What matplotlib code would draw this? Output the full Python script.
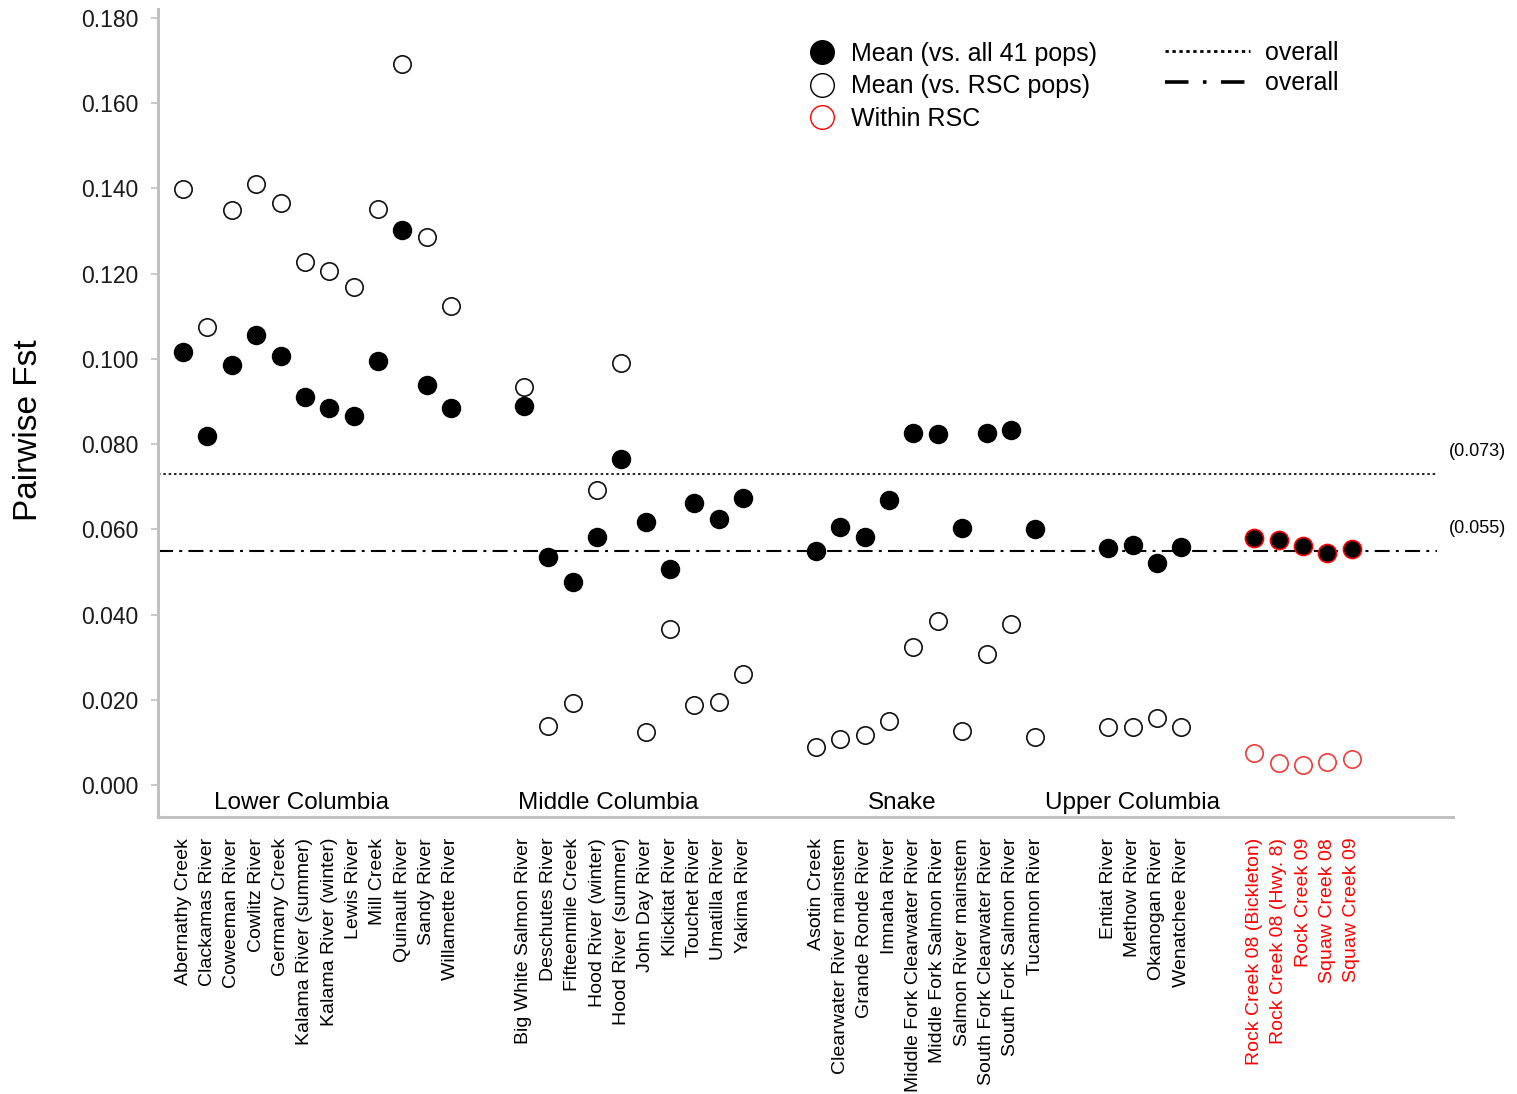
import matplotlib
matplotlib.use("Agg")
import matplotlib.pyplot as plt
from matplotlib.lines import Line2D
import numpy as np

plt.rcParams["font.family"] = ["Liberation Sans", "DejaVu Sans"]

# ---- populations, grouped by region ----
group_names = ["Lower Columbia", "Middle Columbia", "Snake", "Upper Columbia", "RSC"]

lower_columbia = ["Abernathy Creek", "Clackamas River", "Coweeman River", "Cowlitz River",
                  "Germany Creek", "Kalama River (summer)", "Kalama River (winter)",
                  "Lewis River", "Mill Creek", "Quinault River", "Sandy River",
                  "Willamette River"]
middle_columbia = ["Big White Salmon River", "Deschutes River", "Fifteenmile Creek",
                   "Hood River (winter)", "Hood River (summer)", "John Day River",
                   "Klickitat River", "Touchet River", "Umatilla River", "Yakima River"]
snake = ["Asotin Creek", "Clearwater River mainstem", "Grande Ronde River", "Imnaha River",
         "Middle Fork Clearwater River", "Middle Fork Salmon River",
         "Salmon River mainstem", "South Fork Clearwater River",
         "South Fork Salmon River", "Tucannon River"]
upper_columbia = ["Entiat River", "Methow River", "Okanogan River", "Wenatchee River"]
rsc = ["Rock Creek 08 (Bickleton)", "Rock Creek 08 (Hwy. 8)", "Rock Creek 09",
       "Squaw Creek 08", "Squaw Creek 09"]

# ---- mean pairwise Fst vs. all 41 populations ----
mean_all_lc = [0.1016, 0.0819, 0.0986, 0.1056, 0.1007, 0.0911, 0.0885, 0.0866,
               0.0995, 0.1302, 0.0939, 0.0885]
mean_all_mc = [0.0889, 0.0535, 0.0476, 0.0582, 0.0765, 0.0617, 0.0507, 0.0662,
               0.0624, 0.0674]
mean_all_sn = [0.0549, 0.0605, 0.0582, 0.0669, 0.0826, 0.0824, 0.0603, 0.0826,
               0.0833, 0.0601]
mean_all_uc = [0.0556, 0.0563, 0.0521, 0.0559]
mean_all_rsc = [0.0580, 0.0575, 0.0561, 0.0544, 0.0554]

# ---- mean pairwise Fst vs. RSC populations (within RSC for RSC pops) ----
mean_rsc_lc = [0.1399, 0.1075, 0.1349, 0.1410, 0.1366, 0.1227, 0.1206, 0.1169,
               0.1352, 0.1692, 0.1286, 0.1124]
mean_rsc_mc = [0.0934, 0.0138, 0.0192, 0.0692, 0.0990, 0.0124, 0.0366, 0.0188,
               0.0195, 0.0260]
mean_rsc_sn = [0.0089, 0.0108, 0.0117, 0.0150, 0.0324, 0.0385, 0.0127, 0.0307,
               0.0378, 0.0113]
mean_rsc_uc = [0.0136, 0.0136, 0.0157, 0.0136]
within_rsc = [0.0075, 0.0052, 0.0047, 0.0054, 0.0061]

overall_all = 0.073
overall_rsc = 0.055

yticks = [0.000, 0.020, 0.040, 0.060, 0.080, 0.100, 0.120, 0.140, 0.160, 0.180]

# ---- x positions: one slot per population, two empty slots between regions ----
groups = [lower_columbia, middle_columbia, snake, upper_columbia, rsc]
positions = []
start = 0
for g in groups:
    positions.append(np.arange(start, start + len(g)))
    start += len(g) + 2
all_names = sum(groups, [])
all_pos = np.concatenate(positions)

fig = plt.figure(figsize=(15.17, 10.94), dpi=100)
ax = fig.add_axes([0.1042, 0.2532, 0.8536, 0.7386])

x_left, x_right = -1.03, 52.16
ax.set_xlim(x_left, x_right)
ax.set_ylim(-0.0075, 0.1821)

# reference lines for the overall means
line_end = 51.5
ax.hlines(overall_all, x_left, line_end, colors="black", lw=1.2,
          linestyles=(0, (1.5, 1.7)), zorder=1)
ax.hlines(overall_rsc, x_left, line_end, colors="black", lw=1.5,
          linestyles=(0, (7.2, 3.0, 1.4, 3.0)), zorder=1)
ax.annotate(f"({overall_all:.3f})", xy=(52.0, overall_all), xytext=(0, 16),
            textcoords="offset points", ha="left", va="center", fontsize=13,
            annotation_clip=False)
ax.annotate(f"({overall_rsc:.3f})", xy=(52.0, overall_rsc), xytext=(0, 16),
            textcoords="offset points", ha="left", va="center", fontsize=13,
            annotation_clip=False)

ms = 13
mean_all_groups = [mean_all_lc, mean_all_mc, mean_all_sn, mean_all_uc]
mean_rsc_groups = [mean_rsc_lc, mean_rsc_mc, mean_rsc_sn, mean_rsc_uc]
for pos, fa, fr in zip(positions[:4], mean_all_groups, mean_rsc_groups):
    ax.plot(pos, fr, "o", ms=ms - 0.5, mfc="white", mec="#111111", mew=1.2, zorder=3,
            clip_on=False)
    ax.plot(pos, fa, "o", ms=ms, mfc="black", mec="black", mew=1.0, zorder=3,
            clip_on=False)

ax.plot(positions[4], within_rsc, "o", ms=ms - 0.5, mfc="white", mec="#f23a3a", mew=1.2,
        zorder=3, clip_on=False)
ax.plot(positions[4], mean_all_rsc, "o", ms=ms, mfc="black", mec="#ff0000", mew=1.2,
        zorder=3, clip_on=False)

# region labels inside the plot, just above the x axis
group_label_x = [4.85, 17.45, 29.53, 39.01]
for name, gx in zip(group_names[:4], group_label_x):
    ax.text(gx, -0.0057, name, ha="center", va="baseline", fontsize=17.5)

# axes styling
for side in ["top", "right"]:
    ax.spines[side].set_visible(False)
for side in ["left", "bottom"]:
    ax.spines[side].set_color("#c0c0c0")
    ax.spines[side].set_linewidth(2.2)

ax.set_yticks(yticks)
ax.set_yticklabels([f"{t:.3f}" for t in yticks])
ax.tick_params(axis="y", length=5, width=1.2, color="#c0c0c0", pad=9,
               labelsize=16.5, labelcolor="#1a1a1a")

ax.set_xticks(all_pos)
ax.set_xticklabels(all_names, rotation=90, fontsize=14)
ax.tick_params(axis="x", length=0, pad=15)
n_rsc = len(rsc)
for lbl in ax.get_xticklabels()[-n_rsc:]:
    lbl.set_color("#ff0000")

fig.text(29 / 1517, 1 - 430 / 1094, "Pairwise Fst", rotation=90, ha="center",
         va="center", fontsize=24)

# legends
marker_handles = [
    Line2D([], [], ls="none", marker="o", ms=17, mfc="black", mec="black"),
    Line2D([], [], ls="none", marker="o", ms=17, mfc="white", mec="black", mew=1.0),
    Line2D([], [], ls="none", marker="o", ms=17, mfc="white", mec="#ff0000", mew=1.0),
]
leg1 = fig.legend(marker_handles,
                  ["Mean (vs. all 41 pops)", "Mean (vs. RSC pops)", "Within RSC"],
                  loc="upper left", bbox_to_anchor=(807 / 1517, 1 - 42 / 1094),
                  frameon=False, fontsize=18, handlelength=1.2, handletextpad=0.55,
                  labelspacing=0.34, borderpad=0, borderaxespad=0)
line_handles = [
    Line2D([], [], color="black", lw=2.0, ls=(0, (1.2, 1.3))),
    Line2D([], [], color="black", lw=2.6, ls=(0, (6.5, 4.0, 1.0, 4.0))),
]
leg2 = fig.legend(line_handles, ["overall", "overall"],
                  loc="upper left", bbox_to_anchor=(1165 / 1517, 1 - 41 / 1094),
                  frameon=False, fontsize=18, handlelength=3.4, handletextpad=0.6,
                  labelspacing=0.26, borderpad=0, borderaxespad=0)

fig.savefig("out.png", dpi=100)
